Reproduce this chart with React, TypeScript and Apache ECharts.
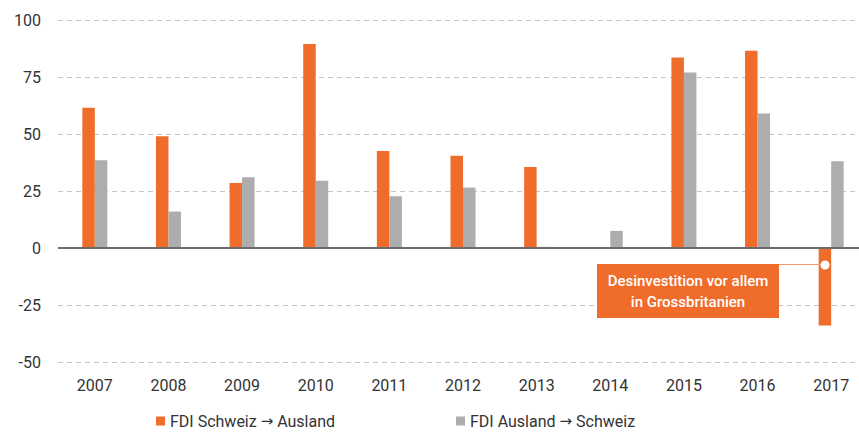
import React, { useEffect, useRef } from "react";
import * as echarts from "echarts";

const years = ["2007", "2008", "2009", "2010", "2011", "2012", "2013", "2014", "2015", "2016", "2017"];
const fdiOut = [61.5, 49, 28.5, 89.5, 42.5, 40.5, 35.5, 0, 83.5, 86.5, -34];
const fdiIn = [38.5, 16, 31, 29.5, 22.7, 26.5, 0.5, 7.5, 77, 59, 38];
const yTicks = { min: -50, max: 100, interval: 25 };
const seriesNames = ["FDI Schweiz \u2192 Ausland", "FDI Ausland \u2192 Schweiz"];
const noteLines = ["Desinvestition vor allem", "in Grossbritanien"];

const ORANGE = "#ef6c2b";
const GRAY = "#adadad";
const FONT = "Roboto";

const legendText = {
  fontFamily: FONT,
  fontSize: 16,
  color: "#333",
  rich: {
    arr: { fontFamily: "DejaVu Sans", fontSize: 15, color: "#333" },
  },
};
const legendFormatter = (name: string) => {
  const parts = name.split("\u2192");
  return parts[0] + "{arr|\u2192}" + parts[1];
};

export default function App() {
  const ref = useRef<HTMLDivElement>(null);
  useEffect(() => {
    document.body.style.margin = "0";
    const chart = echarts.init(ref.current!, null, { renderer: "svg" });
    chart.setOption({
      animation: false,
      textStyle: { fontFamily: FONT },
      grid: { left: 58, top: 20, width: 810, height: 342 },
      legend: [
        {
          data: [seriesNames[0]],
          left: 151,
          top: 408,
          itemWidth: 9,
          itemHeight: 9,
          icon: "rect",
          formatter: legendFormatter,
          textStyle: legendText,
        },
        {
          data: [seriesNames[1]],
          left: 451,
          top: 408,
          itemWidth: 9,
          itemHeight: 9,
          icon: "rect",
          formatter: legendFormatter,
          textStyle: legendText,
        },
      ],
      xAxis: {
        type: "category",
        data: years,
        axisLine: { show: false, onZero: false },
        axisTick: { show: false },
        axisLabel: { fontFamily: FONT, fontSize: 16, color: "#333", margin: 15 },
      },
      yAxis: {
        type: "value",
        min: yTicks.min,
        max: yTicks.max,
        interval: yTicks.interval,
        axisLine: { show: false },
        axisTick: { show: false },
        axisLabel: { fontFamily: FONT, fontSize: 16, color: "#333", margin: 17 },
        splitLine: { lineStyle: { color: "#c4c4c4", type: [5, 4], width: 1 } },
      },
      series: [
        {
          name: seriesNames[0],
          type: "bar",
          data: fdiOut,
          barWidth: 12.5,
          barGap: "0%",
          itemStyle: { color: ORANGE },
          markLine: {
            silent: true,
            symbol: "none",
            label: { show: false },
            lineStyle: { color: "#6b6b6b", type: "solid", width: 2 },
            data: [{ yAxis: 0 }],
            z: 10,
          },
        },
        {
          name: seriesNames[1],
          type: "bar",
          data: fdiIn,
          barWidth: 12.5,
          itemStyle: { color: GRAY },
        },
      ],
      graphic: [
        {
          type: "line",
          shape: { x1: 779, y1: 264.5, x2: 825, y2: 264.5 },
          style: { stroke: "#f49a6c", lineWidth: 1.2 },
          z: 20,
        },
        {
          type: "rect",
          shape: { x: 597, y: 264, width: 182, height: 54 },
          style: { fill: ORANGE },
          z: 20,
        },
        {
          type: "text",
          x: 688,
          y: 281,
          style: {
            text: noteLines[0],
            fill: "#fff",
            font: `500 15px ${FONT}`,
            align: "center",
            verticalAlign: "middle",
          },
          z: 21,
        },
        {
          type: "text",
          x: 688,
          y: 302,
          style: {
            text: noteLines[1],
            fill: "#fff",
            font: `500 15px ${FONT}`,
            align: "center",
            verticalAlign: "middle",
          },
          z: 21,
        },
        {
          type: "circle",
          shape: { cx: 825, cy: 265, r: 4.5 },
          style: { fill: "#fff" },
          z: 21,
        },
      ],
    });
    return () => chart.dispose();
  }, []);
  return (
    <div style={{ width: 859, height: 432, overflow: "hidden", position: "relative" }}>
      <div ref={ref} style={{ width: 880, height: 432 }} />
    </div>
  );
}
